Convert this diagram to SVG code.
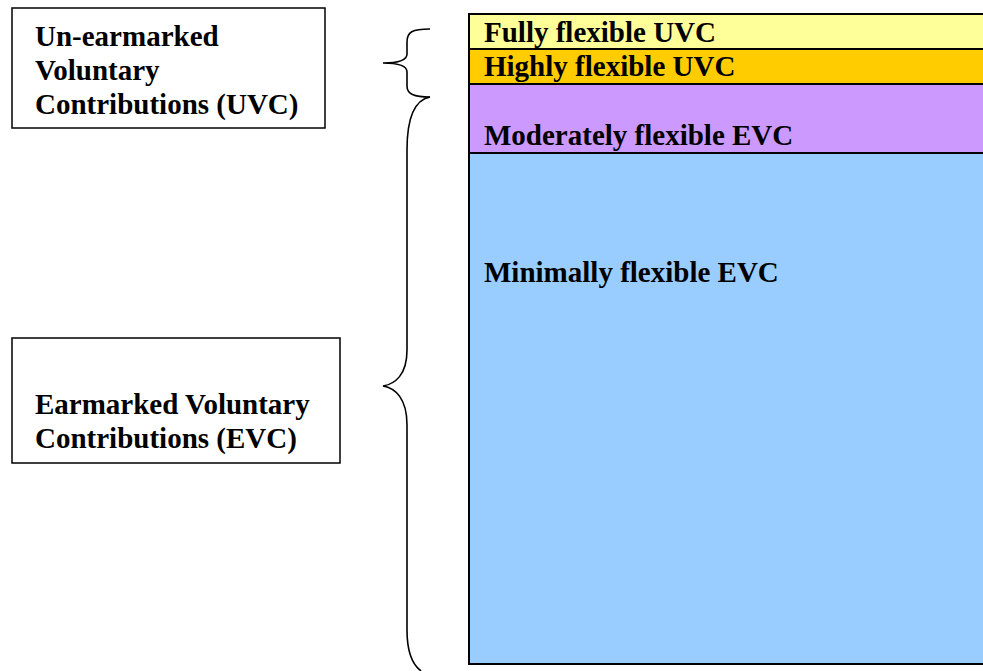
<svg xmlns="http://www.w3.org/2000/svg" width="983" height="671" viewBox="0 0 983 671">
<style>
text{font-family:"Liberation Serif","Times New Roman",serif;font-weight:bold;font-size:29px;fill:#000}
.box{fill:#fff;stroke:#000;stroke-width:1.5}
.band{stroke:#000;stroke-width:2}
.brace{fill:none;stroke:#000;stroke-width:1.6}
</style>
<rect width="983" height="671" fill="#fff"/>
<g id="uvc-label">
<rect class="box" x="12" y="8" width="313" height="120"/>
<text x="35" y="46">Un-earmarked</text>
<text x="35" y="80">Voluntary</text>
<text x="35" y="114">Contributions (UVC)</text>
</g>
<g id="evc-label">
<rect class="box" x="12" y="338" width="328" height="125"/>
<text x="35" y="414">Earmarked Voluntary</text>
<text x="35" y="448">Contributions (EVC)</text>
</g>
<g id="fully">
<rect class="band" x="469" y="14" width="520" height="35" fill="#FFFF99"/>
<text x="484" y="42">Fully flexible UVC</text>
</g>
<g id="highly">
<rect class="band" x="469" y="49" width="520" height="35" fill="#FFCC00"/>
<text x="484" y="76">Highly flexible UVC</text>
</g>
<g id="moderately">
<rect class="band" x="469" y="84" width="520" height="69" fill="#CC99FF"/>
<text x="484" y="145">Moderately flexible EVC</text>
</g>
<g id="minimally">
<rect class="band" x="469" y="153" width="520" height="511" fill="#99CCFF"/>
<text x="484" y="282">Minimally flexible EVC</text>
</g>
<g id="connectors">
<path class="brace" d="M430,29 C412,29 407,32 407,42 L407,54 C407,60 398,63 383,63 C398,63 407,66 407,72 L407,86 C407,94 414,97 430,97"/>
<path class="brace" d="M430,97 C414,100 407,120 407,150 L407,350 C407,375 395,384 383,386 C395,388 407,398 407,425 L407,630 C407,652 413,665 421,671"/>
</g>
</svg>
